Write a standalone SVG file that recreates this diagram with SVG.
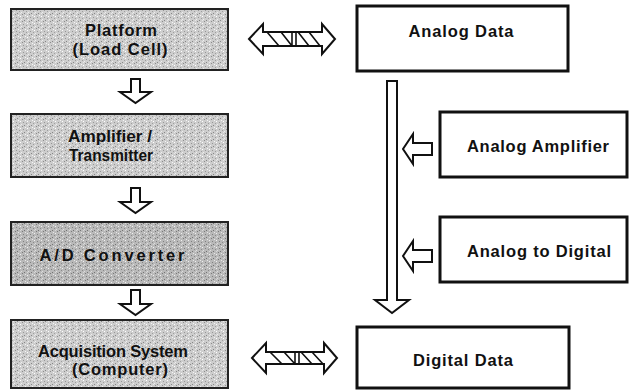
<svg xmlns="http://www.w3.org/2000/svg" width="631" height="390" viewBox="0 0 631 390">
  <defs>
    <!-- stippled gray fill of the process blocks -->
    <pattern id="grain" width="7" height="7" patternUnits="userSpaceOnUse">
      <rect width="7" height="7" fill="#cdcdcd"/>
      <rect x="1" y="0" width="1" height="1" fill="#8c8c8c"/>
      <rect x="4" y="1" width="1" height="1" fill="#f4f4f4"/>
      <rect x="6" y="2" width="1" height="1" fill="#ffffff"/>
      <rect x="2" y="3" width="1" height="1" fill="#969696"/>
      <rect x="5" y="4" width="1" height="1" fill="#9e9e9e"/>
      <rect x="0" y="5" width="1" height="1" fill="#eeeeee"/>
      <rect x="3" y="6" width="1" height="1" fill="#878787"/>
      <rect x="6" y="6" width="1" height="1" fill="#e8e8e8"/>
    </pattern>
    <pattern id="grainDark" width="7" height="7" patternUnits="userSpaceOnUse">
      <rect width="7" height="7" fill="#b9b9b9"/>
      <rect x="1" y="0" width="1" height="1" fill="#7a7a7a"/>
      <rect x="4" y="1" width="1" height="1" fill="#e6e6e6"/>
      <rect x="6" y="2" width="1" height="1" fill="#f0f0f0"/>
      <rect x="2" y="3" width="1" height="1" fill="#808080"/>
      <rect x="5" y="4" width="1" height="1" fill="#8a8a8a"/>
      <rect x="0" y="5" width="1" height="1" fill="#dedede"/>
      <rect x="3" y="6" width="1" height="1" fill="#747474"/>
      <rect x="6" y="6" width="1" height="1" fill="#d8d8d8"/>
    </pattern>
    <style>
      text { font-family: "Liberation Sans", Arial, Helvetica, sans-serif; font-weight: bold; font-size: 16.5px; fill: #111; }
      .proc { fill: url(#grain); stroke: #222; stroke-width: 2; }
      .procDark { fill: url(#grainDark); stroke: #222; stroke-width: 2; }
      .data { fill: #fff; stroke: #111; stroke-width: 3; }
      .arrow { fill: #fff; stroke: #111; stroke-width: 2; stroke-linejoin: miter; }
      .hatch { stroke: #111; stroke-width: 1.6; fill: none; }
    </style>
  </defs>

  <rect width="631" height="390" fill="#fff"/>

  <!-- process chain, left column -->
  <g id="platform">
    <rect class="proc" x="11" y="9" width="217" height="61"/>
    <text x="121" y="36" text-anchor="middle" textLength="72" lengthAdjust="spacing">Platform</text>
    <text x="120" y="55" text-anchor="middle" textLength="95" lengthAdjust="spacing">(Load Cell)</text>
  </g>
  <g id="amplifier">
    <rect class="proc" x="11" y="114" width="217" height="63"/>
    <text x="110" y="142" text-anchor="middle" textLength="84" lengthAdjust="spacingAndGlyphs">Amplifier /</text>
    <text x="111" y="161" text-anchor="middle" textLength="84" lengthAdjust="spacingAndGlyphs">Transmitter</text>
  </g>
  <g id="adconverter">
    <rect class="procDark" x="11" y="222" width="217" height="63"/>
    <text x="112" y="261" text-anchor="middle" textLength="145" lengthAdjust="spacing">A/D Converter</text>
  </g>
  <g id="acquisition">
    <rect class="proc" x="11" y="320" width="217" height="68"/>
    <text x="113" y="357" text-anchor="middle" textLength="150" lengthAdjust="spacing">Acquisition System</text>
    <text x="120" y="375" text-anchor="middle" textLength="96" lengthAdjust="spacing">(Computer)</text>
  </g>

  <!-- data stages, right column -->
  <g id="analogData">
    <rect class="data" x="357" y="6" width="211" height="65"/>
    <text x="461" y="37" text-anchor="middle" textLength="105" lengthAdjust="spacing">Analog Data</text>
  </g>
  <g id="analogAmplifier">
    <rect class="data" x="440" y="112" width="187" height="65"/>
    <text x="538" y="152" text-anchor="middle" textLength="142" lengthAdjust="spacing">Analog Amplifier</text>
  </g>
  <g id="analogToDigital">
    <rect class="data" x="440" y="217" width="187" height="65"/>
    <text x="539" y="257" text-anchor="middle" textLength="144" lengthAdjust="spacing">Analog to Digital</text>
  </g>
  <g id="digitalData">
    <rect class="data" x="357" y="327" width="212" height="61"/>
    <text x="463" y="366" text-anchor="middle" textLength="100" lengthAdjust="spacing">Digital Data</text>
  </g>

  <g id="connectors">
    <!-- hollow down arrows between process blocks -->
    <path class="arrow" d="M131,79 L140,79 L140,92 L151,92 L135.5,103 L120,92 L131,92 Z"/>
    <path class="arrow" d="M131,188 L140,188 L140,202 L151,202 L135.5,213 L120,202 L131,202 Z"/>
    <path class="arrow" d="M131,290 L140,290 L140,304 L151,304 L135.5,315 L120,304 L131,304 Z"/>

    <!-- long signal bar from analog to digital data -->
    <path class="arrow" d="M387,81 L397,81 L397,300 L409,300 L392,313 L375,300 L387,300 Z"/>

    <!-- feeds into the signal bar -->
    <path class="arrow" d="M432,143 L432,155 L413,155 L413,164 L403,149 L413,134 L413,143 Z"/>
    <path class="arrow" d="M432,250 L432,262 L413,262 L413,271 L403,256 L413,241 L413,250 Z"/>

    <!-- hatched two-way links -->
    <g>
      <path class="arrow" d="M249,39 L263,24 L263,32 L322,32 L322,24 L335,39 L322,54 L322,46 L263,46 L263,54 Z"/>
      <path class="hatch" d="M267,32 L279,46 M281,32 L292,46 M292,32 L292,46 M296,32 L296,46 M298,32 L309,46 M309,32 L320,46"/>
    </g>
    <g>
      <path class="arrow" d="M252,358 L266,343 L266,352 L324,352 L324,343 L337,358 L324,373 L324,364 L266,364 L266,373 Z"/>
      <path class="hatch" d="M270,352 L282,364 M284,352 L295,364 M295,352 L295,364 M299,352 L299,364 M301,352 L312,364 M312,352 L323,364"/>
    </g>
  </g>
</svg>
